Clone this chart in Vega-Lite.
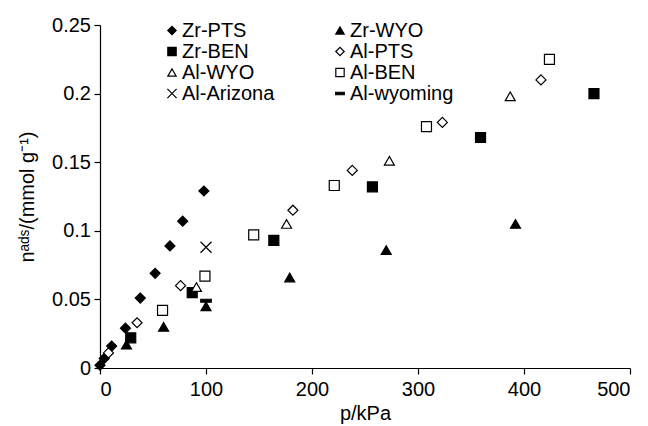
{
  "$schema": "https://vega.github.io/schema/vega-lite/v6.json",
  "width": 530,
  "height": 343,
  "autosize": "none",
  "padding": {"left": 100, "top": 25, "right": 18, "bottom": 58},
  "background": "white",
  "data": {"values": [
    {"series": "Zr-PTS", "p": 0, "n": 0.002},
    {"series": "Zr-PTS", "p": 4, "n": 0.007},
    {"series": "Zr-PTS", "p": 11, "n": 0.016},
    {"series": "Zr-PTS", "p": 24, "n": 0.029},
    {"series": "Zr-PTS", "p": 38, "n": 0.051},
    {"series": "Zr-PTS", "p": 52, "n": 0.069},
    {"series": "Zr-PTS", "p": 66, "n": 0.089},
    {"series": "Zr-PTS", "p": 78, "n": 0.107},
    {"series": "Zr-PTS", "p": 98, "n": 0.129},
    {"series": "Zr-BEN", "p": 29, "n": 0.022},
    {"series": "Zr-BEN", "p": 87, "n": 0.055},
    {"series": "Zr-BEN", "p": 164, "n": 0.093},
    {"series": "Zr-BEN", "p": 257, "n": 0.132},
    {"series": "Zr-BEN", "p": 359, "n": 0.168},
    {"series": "Zr-BEN", "p": 466, "n": 0.2},
    {"series": "Al-WYO", "p": 91, "n": 0.059},
    {"series": "Al-WYO", "p": 176, "n": 0.105},
    {"series": "Al-WYO", "p": 273, "n": 0.151},
    {"series": "Al-WYO", "p": 387, "n": 0.198},
    {"series": "Al-Arizona", "p": 100, "n": 0.088},
    {"series": "Zr-WYO", "p": 25, "n": 0.017},
    {"series": "Zr-WYO", "p": 60, "n": 0.03},
    {"series": "Zr-WYO", "p": 100, "n": 0.045},
    {"series": "Zr-WYO", "p": 179, "n": 0.066},
    {"series": "Zr-WYO", "p": 270, "n": 0.086},
    {"series": "Zr-WYO", "p": 392, "n": 0.105},
    {"series": "Al-PTS", "p": 8, "n": 0.011},
    {"series": "Al-PTS", "p": 35, "n": 0.033},
    {"series": "Al-PTS", "p": 76, "n": 0.06},
    {"series": "Al-PTS", "p": 182, "n": 0.115},
    {"series": "Al-PTS", "p": 238, "n": 0.144},
    {"series": "Al-PTS", "p": 323, "n": 0.179},
    {"series": "Al-PTS", "p": 416, "n": 0.21},
    {"series": "Al-BEN", "p": 59, "n": 0.042},
    {"series": "Al-BEN", "p": 99, "n": 0.067},
    {"series": "Al-BEN", "p": 145, "n": 0.097},
    {"series": "Al-BEN", "p": 221, "n": 0.133},
    {"series": "Al-BEN", "p": 308, "n": 0.176},
    {"series": "Al-BEN", "p": 424, "n": 0.225},
    {"series": "Al-wyoming", "p": 100, "n": 0.049}
  ]},
  "mark": {"type": "point", "size": 100, "strokeWidth": 1.2, "opacity": 1},
  "encoding": {
    "x": {
      "field": "p", "type": "quantitative",
      "scale": {"domain": [0, 500], "nice": false, "zero": false},
      "axis": {
        "values": [0, 100, 200, 300, 400, 500], "title": "p/kPa", "titlePadding": 4,
        "ticks": true, "tickSize": 6, "labelPadding": 5
      }
    },
    "y": {
      "field": "n", "type": "quantitative",
      "scale": {"domain": [0, 0.25], "nice": false, "zero": false},
      "axis": {
        "values": [0, 0.05, 0.1, 0.15, 0.2, 0.25], "format": ".2~f", "title": "nᵃᵈˢ/(mmol g⁻¹)", "titlePadding": 14,
        "ticks": true, "tickSize": 6, "labelPadding": 3.5
      }
    },
    "shape": {
      "field": "series", "type": "nominal",
      "scale": {
        "domain": ["Zr-PTS", "Zr-BEN", "Al-WYO", "Al-Arizona", "Zr-WYO", "Al-PTS", "Al-BEN", "Al-wyoming"],
        "range": ["diamond", "square", "triangle-up", "M-1.1,-1.1L1.1,1.1M-1.1,1.1L1.1,-1.1", "triangle-up", "diamond", "square", "M-1.05,-0.3H1.05V0.3H-1.05Z"]
      },
      "legend": {"title": null, "orient": "none", "legendX": 62, "legendY": -4.5, "columns": 2}
    },
    "fill": {
      "field": "series", "type": "nominal",
      "scale": {
        "domain": ["Zr-PTS", "Zr-BEN", "Al-WYO", "Al-Arizona", "Zr-WYO", "Al-PTS", "Al-BEN", "Al-wyoming"],
        "range": ["black", "black", "white", "transparent", "black", "white", "white", "black"]
      },
      "legend": {"title": null, "orient": "none", "legendX": 62, "legendY": -4.5, "columns": 2}
    },
    "stroke": {
      "field": "series", "type": "nominal",
      "scale": {
        "domain": ["Zr-PTS", "Zr-BEN", "Al-WYO", "Al-Arizona", "Zr-WYO", "Al-PTS", "Al-BEN", "Al-wyoming"],
        "range": ["black", "black", "black", "black", "black", "black", "black", "black"]
      },
      "legend": {"title": null, "orient": "none", "legendX": 62, "legendY": -4.5, "columns": 2}
    }
  },
  "config": {
    "view": {"stroke": null},
    "font": "Liberation Sans",
    "axis": {
      "grid": false,
      "domainColor": "black",
      "domainWidth": 1.2,
      "tickColor": "black",
      "tickWidth": 1.2,
      "labelFont": "Liberation Sans",
      "labelFontSize": 20,
      "labelColor": "black",
      "titleFont": "Liberation Sans",
      "titleFontSize": 20,
      "titleFontWeight": "normal",
      "titleColor": "black"
    },
    "legend": {
      "labelFont": "Liberation Sans",
      "labelFontSize": 20,
      "labelColor": "black",
      "symbolSize": 70,
      "symbolStrokeWidth": 1.2,
      "labelOffset": 0,
      "columnPadding": 55,
      "rowPadding": 1,
      "padding": 0,
      "labelLimit": 200
    }
  }
}
